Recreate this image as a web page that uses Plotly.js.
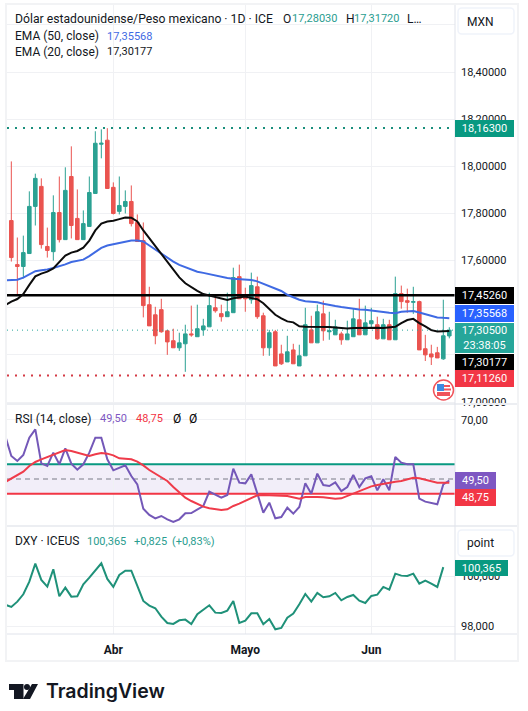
<!DOCTYPE html>
<html><head><meta charset="utf-8">
<script src="https://cdn.plot.ly/plotly-3.0.1.min.js"></script>
<style>html,body{margin:0;padding:0;background:#fff}#c{width:528px;height:711px}</style>
</head><body><div id="c"></div>
<script>
const open=[17.770,17.583,17.575,17.630,17.830,17.915,17.660,17.638,17.804,17.689,17.957,17.779,17.689,17.745,17.885,18.094,18.111,17.911,17.809,17.830,17.851,17.762,17.685,17.413,17.370,17.392,17.302,17.260,17.230,17.247,17.289,17.277,17.306,17.319,17.400,17.375,17.362,17.379,17.532,17.447,17.434,17.489,17.366,17.230,17.298,17.204,17.170,17.221,17.153,17.196,17.306,17.251,17.374,17.298,17.285,17.289,17.264,17.277,17.349,17.285,17.332,17.328,17.268,17.328,17.264,17.460,17.430,17.423,17.426,17.226,17.204,17.209,17.183,17.2803];
const high=[18.021,17.698,17.706,17.894,17.969,17.949,17.740,17.877,17.957,17.996,18.085,17.902,17.813,17.957,18.149,18.157,18.162,17.932,17.957,17.898,17.919,17.796,17.762,17.489,17.404,17.438,17.306,17.311,17.294,17.328,17.409,17.413,17.353,17.464,17.451,17.413,17.464,17.570,17.583,17.485,17.549,17.532,17.379,17.306,17.306,17.243,17.281,17.247,17.243,17.400,17.366,17.413,17.430,17.383,17.349,17.298,17.345,17.396,17.438,17.409,17.400,17.362,17.353,17.349,17.532,17.494,17.481,17.489,17.430,17.285,17.243,17.234,17.434,17.3172];
const low=[17.596,17.451,17.525,17.630,17.749,17.651,17.613,17.600,17.677,17.689,17.694,17.689,17.689,17.745,17.885,18.034,17.906,17.796,17.796,17.800,17.745,17.681,17.359,17.323,17.245,17.294,17.200,17.230,17.217,17.128,17.277,17.277,17.281,17.319,17.379,17.341,17.362,17.379,17.438,17.383,17.417,17.353,17.196,17.196,17.153,17.157,17.170,17.162,17.153,17.196,17.251,17.251,17.260,17.264,17.285,17.243,17.264,17.277,17.285,17.285,17.315,17.264,17.268,17.264,17.264,17.396,17.379,17.374,17.221,17.174,17.157,17.187,17.179,17.270];
const close=[17.613,17.575,17.634,17.830,17.949,17.668,17.643,17.804,17.689,17.898,17.749,17.689,17.757,17.889,18.098,18.098,17.906,17.800,17.834,17.851,17.757,17.681,17.409,17.323,17.281,17.298,17.255,17.230,17.251,17.289,17.285,17.311,17.323,17.409,17.387,17.362,17.383,17.528,17.438,17.438,17.494,17.362,17.230,17.294,17.153,17.162,17.213,17.162,17.196,17.328,17.251,17.383,17.302,17.302,17.319,17.264,17.289,17.353,17.285,17.336,17.345,17.268,17.328,17.264,17.460,17.426,17.423,17.426,17.221,17.200,17.191,17.187,17.281,17.305];
const ema20=[17.411,17.426,17.437,17.458,17.497,17.533,17.545,17.553,17.567,17.596,17.621,17.634,17.641,17.655,17.685,17.728,17.757,17.766,17.769,17.776,17.783,17.782,17.766,17.728,17.694,17.664,17.631,17.593,17.560,17.529,17.504,17.487,17.472,17.458,17.451,17.445,17.438,17.433,17.440,17.445,17.448,17.441,17.436,17.419,17.394,17.370,17.355,17.342,17.338,17.321,17.319,17.319,17.321,17.321,17.318,17.316,17.314,17.312,17.314,17.315,17.315,17.315,17.315,17.314,17.315,17.319,17.335,17.348,17.353,17.335,17.321,17.305,17.299,17.299,17.30177];
const ema50=[17.516,17.518,17.519,17.528,17.542,17.555,17.559,17.562,17.569,17.576,17.584,17.594,17.599,17.604,17.619,17.638,17.654,17.664,17.670,17.675,17.682,17.685,17.685,17.681,17.664,17.647,17.628,17.610,17.596,17.582,17.572,17.562,17.553,17.548,17.542,17.536,17.532,17.526,17.523,17.522,17.519,17.518,17.512,17.502,17.492,17.484,17.471,17.455,17.443,17.434,17.428,17.426,17.423,17.417,17.411,17.407,17.403,17.399,17.396,17.393,17.391,17.389,17.386,17.382,17.379,17.377,17.383,17.386,17.386,17.380,17.373,17.366,17.359,17.357,17.35568];
const rsi=[64.5,57.80,56.10,58.13,64.01,66.84,55.31,54.41,58.93,54.97,60.39,55.20,53.16,54.97,58.93,64.01,64.01,56.67,52.94,53.84,54.63,51.02,48.19,39.94,37.80,36.67,37.46,36.33,35.42,36.33,38.36,38.47,39.72,40.85,45.71,44.80,43.67,44.58,53.50,48.76,48.53,51.58,44.80,38.59,41.98,36.67,37.12,40.28,38.25,40.51,48.53,45.03,51.81,47.97,47.63,48.87,45.93,47.29,51.36,47.29,50.23,50.90,46.16,49.89,46.16,57.46,55.54,54.97,54.97,43.33,42.32,41.98,41.41,48.19,49.50];
const rsiMa=[49.0,50.23,51.36,52.49,54.41,55.76,56.67,57.46,58.36,59.26,59.83,59.49,58.93,58.13,57.80,58.36,58.81,58.59,58.02,57.00,56.89,56.67,55.88,54.63,53.05,51.81,50.68,49.32,47.29,45.37,43.67,42.54,41.64,40.62,40.06,39.72,39.49,39.72,40.85,41.64,42.54,43.67,44.46,44.58,44.58,44.58,44.35,44.24,43.67,43.33,43.90,44.01,43.90,43.78,43.56,43.33,43.45,44.24,45.03,45.93,46.72,47.51,47.97,48.42,48.64,49.10,49.32,49.89,50.45,50.23,49.77,49.32,48.76,48.76,48.75];
const dxy=[98.86,98.772,98.985,99.279,99.785,100.505,99.852,99.585,100.279,99.199,99.545,99.185,99.199,99.679,99.945,100.252,100.519,99.892,99.572,100.052,100.225,100.225,99.585,99.012,98.825,98.719,98.385,98.132,98.092,98.239,98.265,98.092,98.479,98.652,98.839,98.545,98.532,98.625,99.012,98.132,98.225,98.519,98.519,98.079,98.292,97.879,97.932,98.345,98.505,98.879,99.292,98.985,99.332,99.159,99.199,99.332,99.039,99.172,99.252,99.025,98.932,99.212,99.265,99.572,99.465,100.105,100.025,100.012,100.105,99.705,99.825,99.705,99.572,100.365];
const monthTicks=[17,39,60];
const monthLabels=["<b>Abr</b>","<b>Mayo</b>","<b>Jun</b>"];
const priceTicks=[17.0,17.2,17.4,17.6,17.8,18.0,18.2,18.4,18.6];
const priceLabels=["17,00000","","","17,60000","17,80000","18,00000","18,20000","18,40000",""];
const rsiTicks=[70];
const dxyTicks=[98,100];
const resistance=[17.4526,17.4526];
const highLevel=[18.163,18.163];
const lowLevel=[17.1126,17.1126];
const lastLevel=[17.305,17.305];
const bandUpper=[55,55], bandMid=[50,50], bandLower=[45,45];

const W=528,H=711;
const X=x=>x/W, Y=y=>1-y/H;
const xRange=[-0.72,73.95];
const idx=open.map((_,i)=>i);
const lineIdx=a=>a.map((_,i)=>i-1);
const FONT='Roboto, sans-serif';
const INK='#131722';

function level(vals,color,width,dash,yaxis){
  return {type:'scatter',mode:'lines',x:xRange,y:vals,yaxis:yaxis||'y',hoverinfo:'skip',
    line:{color:color,width:width,dash:dash||'solid'}};
}
function series(y,color,width,yaxis){
  return {type:'scatter',mode:'lines',x:lineIdx(y),y:y,yaxis:yaxis,hoverinfo:'skip',line:{color:color,width:width,shape:'linear'}};
}
const data=[
  {type:'candlestick',x:idx,open:open,high:high,low:low,close:close,yaxis:'y',hoverinfo:'skip',
   whiskerwidth:0,
   increasing:{line:{color:'#2ba193',width:1},fillcolor:'#2ba193'},
   decreasing:{line:{color:'#ea5450',width:1},fillcolor:'#ea5450'}},
  level(lastLevel,'#26a69a',1,'1px,4px'),
  level(highLevel,'#1a8f7c',2,'2px,6px'),
  level(lowLevel,'#d43a45',2,'2px,6px'),
  level(resistance,'#000000',2.5),
  series(ema50,'#3f6ae3',2,'y'),
  series(ema20,'#0c0c0c',2,'y'),
  level(bandMid,'#787b86',1,'5px,4px','y2'),
  level(bandUpper,'#089981',2,'solid','y2'),
  level(bandLower,'#f23645',2,'solid','y2'),
  series(rsi,'#7458b8',2,'y2'),
  series(rsiMa,'#ef3b4a',2,'y2'),
  series(dxy,'#1f9179',2,'y3')
];

const ann=[];
function txt(x,y,text,color,opts){
  ann.push(Object.assign({xref:'paper',yref:'paper',x:X(x),y:Y(y),text:text,showarrow:false,xanchor:'left',yanchor:'middle',
    font:{family:FONT,size:12,color:color||INK},borderpad:0,borderwidth:0},opts||{}));
}
function num(x,y,text,color){ txt(x,y,text,color,{font:{family:FONT,size:11,color:color||INK}}); }
function tag(x0,y0,x1,y1,text,bg){
  ann.push({xref:'paper',yref:'paper',x:X(x0),y:Y(y0),xanchor:'left',yanchor:'top',showarrow:false,text:text,
    width:x1-x0,height:y1-y0,bgcolor:bg,borderpad:0,borderwidth:0,align:'center',valign:'middle',
    font:{family:FONT,size:11,color:'#ffffff'}});
}
const UP='#2a9d8f';
txt(15,19,'Dólar estadounidense/Peso mexicano · 1D · ICE',INK,{font:{family:FONT,size:12.2,color:INK}});
txt(283,19,'O'); num(292,19,'17,28030',UP);
txt(345.5,19,'H'); num(354,19,'17,31720',UP);
txt(407,19,'L…');
txt(15,36,'EMA (50, close)'); num(107,36,'17,35568','#3f6ae3');
txt(15,52,'EMA (20, close)'); num(107,52,'17,30177','#131722');
txt(15,419,'RSI (14, close)'); num(100,419,'49,50','#7e57c2'); num(136,419,'48,75','#f23645');
txt(173,419,'Ø','#000'); txt(189,419,'Ø','#000');
txt(15,541,'DXY · ICEUS'); num(87,541,'100,365',UP); num(134,541,'+0,825',UP); num(172,541,'(+0,83%)',UP);
txt(467,22,'MXN'); txt(467,543,'point');
tag(455,120,514,137,'18,16300','#089981');
tag(455,287,514,304,'17,45260','#000000');
tag(455,305,514,322,'17,35568','#2962ff');
tag(455,323,514,353,'17,30500<br>23:38:05','#26a69a');
tag(455,354,514,370,'17,30177','#000000');
tag(455,370,514,387,'17,11260','#f23645');
tag(455,472,496,489,'49,50','#7e57c2');
tag(455,489,496,506,'48,75','#f23645');
tag(455,560,508,576,'100,365','#089981');
txt(46,691,'TradingView','#131722',{font:{family:'Inter, sans-serif',size:19.5,weight:600,color:'#131722'}});

const shapes=[];
function pRect(x0,y0,x1,y1,fill,line,lw){
  shapes.push({type:'rect',xref:'paper',yref:'paper',x0:X(x0),x1:X(x1),y0:Y(y0),y1:Y(y1),fillcolor:fill||'rgba(0,0,0,0)',
    line:{color:line||'rgba(0,0,0,0)',width:lw||0},layer:'above'});
}
function pPath(points,fill){
  const d=points.map((p,i)=>(i?'L':'M')+X(p[0])+','+Y(p[1])).join(' ')+' Z';
  shapes.push({type:'path',xref:'paper',yref:'paper',path:d,fillcolor:fill,line:{width:0},layer:'above'});
}
function hLine(x0,x1,y,c,w){shapes.push({type:'line',xref:'paper',yref:'paper',x0:X(x0),x1:X(x1),y0:Y(y),y1:Y(y),line:{color:c,width:w},layer:'above'});}
function vLine(x,y0,y1,c,w){shapes.push({type:'line',xref:'paper',yref:'paper',x0:X(x),x1:X(x),y0:Y(y0),y1:Y(y1),line:{color:c,width:w},layer:'above'});}
function rounded(x0,y0,x1,y1,r,c){
  const d='M'+X(x0+r)+','+Y(y0)+' L'+X(x1-r)+','+Y(y0)+' Q'+X(x1)+','+Y(y0)+' '+X(x1)+','+Y(y0+r)+
    ' L'+X(x1)+','+Y(y1-r)+' Q'+X(x1)+','+Y(y1)+' '+X(x1-r)+','+Y(y1)+
    ' L'+X(x0+r)+','+Y(y1)+' Q'+X(x0)+','+Y(y1)+' '+X(x0)+','+Y(y1-r)+
    ' L'+X(x0)+','+Y(y0+r)+' Q'+X(x0)+','+Y(y0)+' '+X(x0+r)+','+Y(y0)+' Z';
  shapes.push({type:'path',xref:'paper',yref:'paper',path:d,fillcolor:'#ffffff',line:{color:c,width:1.5},layer:'above'});
}
shapes.push({type:'rect',xref:'x',yref:'y2',x0:xRange[0],x1:xRange[1],y0:bandLower[0],y1:bandUpper[0],
  fillcolor:'rgba(126,87,194,0.1)',line:{width:0},layer:'below'});
pRect(6,403,518,405,'#ffffff');
hLine(6,518,404,'#e6e8ee',1.5);
hLine(6,518,526,'#e6e8ee',1.5);
hLine(6,518,634,'#e0e3eb',1);
vLine(455,4,661,'#e0e3eb',1);
pRect(6,4,518,661,null,'#f2f3f5',2);
rounded(458,8,514,34,4,'#f0f3fa');
rounded(458,530,514,556,4,'#f0f3fa');
shapes.push({type:'circle',xref:'paper',yref:'paper',x0:X(433.5),x1:X(453.5),y0:Y(380),y1:Y(400),fillcolor:'#ffffff',line:{color:'#f0535a',width:1.5},layer:'above'});
pRect(437,384,444,391,'#3d8ae0');
pRect(444,385,450,387,'#f0535a');
pRect(444,388.5,451,390.5,'#f0535a');
pRect(437,392,450,396,'#f0535a');
pPath([[9,684],[23.5,684],[23.5,699],[14,699],[14,690],[9,690]],'#131722');
pPath([[32,684],[38,684],[30,699],[23,699]],'#131722');
shapes.push({type:'circle',xref:'paper',yref:'paper',x0:X(24),x1:X(30),y0:Y(684),y1:Y(690),fillcolor:'#131722',line:{width:0},layer:'above'});

const axisCommon={side:'right',anchor:'x',showline:false,zeroline:false,ticks:'',fixedrange:true,
  gridcolor:'#f0f1f4',gridwidth:1,tickfont:{family:FONT,size:11,color:INK},ticklabelstandoff:5};
const layout={
  width:W,height:H,margin:{l:0,r:0,t:0,b:0},paper_bgcolor:'#ffffff',plot_bgcolor:'#ffffff',showlegend:false,
  separators:',.',boxgap:0.15,dragmode:false,
  xaxis:{domain:[X(7),X(455)],range:xRange,anchor:'y3',tickvals:monthTicks,ticktext:monthLabels,
    rangeslider:{visible:false},gridcolor:'#f0f1f4',gridwidth:1,showline:false,zeroline:false,ticks:'',
    tickfont:{family:FONT,size:12,color:INK},ticklabelstandoff:7,fixedrange:true,tickangle:0},
  yaxis:Object.assign({},axisCommon,{domain:[Y(404),Y(4)],range:[16.9915,18.689],tickvals:priceTicks,ticktext:priceLabels}),
  yaxis2:Object.assign({},axisCommon,{domain:[Y(526),Y(405)],range:[34.07,75.08],tickvals:rsiTicks,tickformat:'.2f'}),
  yaxis3:Object.assign({},axisCommon,{domain:[Y(634),Y(527)],range:[97.69,101.97],tickvals:dxyTicks,tickformat:'.3f'}),
  annotations:ann,shapes:shapes
};
Plotly.newPlot('c',data,layout,{displayModeBar:false,staticPlot:true,responsive:false});
</script></body></html>
